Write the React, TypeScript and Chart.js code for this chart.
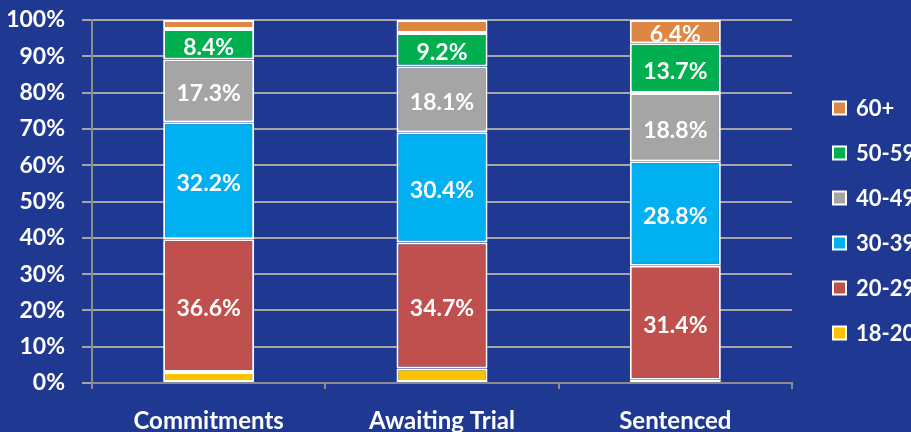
import React, { useEffect, useRef } from 'react';
import { Chart, registerables } from 'chart.js';

Chart.register(...registerables);

const categories = ['Commitments', 'Awaiting Trial', 'Sentenced'];
const ageGroups = ['18-20', '20-29', '30-39', '40-49', '50-59', '60+'];
const age18to20 = [3.0, 4.0, 0.9];
const age20to29 = [36.6, 34.7, 31.4];
const age30to39 = [32.2, 30.4, 28.8];
const age40to49 = [17.3, 18.1, 18.8];
const age50to59 = [8.4, 9.2, 13.7];
const age60plus = [2.5, 3.6, 6.4];
const yTickValues = [0, 10, 20, 30, 40, 50, 60, 70, 80, 90, 100];

const seriesValues = [age18to20, age20to29, age30to39, age40to49, age50to59, age60plus];
const colors = ['#FFC000', '#C0504D', '#00B0F0', '#A5A5A5', '#00B050', '#DE8644'];

const FONT = 'Lato, "Open Sans", sans-serif';
const BG = '#1F3992';

const valueLabels = {
  id: 'valueLabels',
  afterDatasetsDraw(chart: any) {
    const ctx = chart.ctx;
    ctx.save();
    ctx.fillStyle = '#FFFFFF';
    ctx.font = `bold 23px ${FONT}`;
    ctx.textAlign = 'center';
    ctx.textBaseline = 'middle';
    chart.data.datasets.forEach((ds: any, di: number) => {
      const meta = chart.getDatasetMeta(di);
      meta.data.forEach((el: any, i: number) => {
        const v = ds.data[i];
        if (v < 5) return;
        const y = (el.y + el.base) / 2 + 3;
        ctx.fillText(v.toFixed(1) + '%', el.x, y);
      });
    });
    ctx.restore();
  },
};

const sideLegend = {
  id: 'sideLegend',
  afterDraw(chart: any) {
    const ctx = chart.ctx;
    const area = chart.chartArea;
    const boxX = area.right + 41;
    const textX = area.right + 64;
    const startY = area.top + 88;
    const step = 45;
    const box = 13;
    ctx.save();
    ctx.font = `bold 22px ${FONT}`;
    ctx.textAlign = 'left';
    ctx.textBaseline = 'middle';
    const n = chart.data.datasets.length;
    for (let k = 0; k < n; k++) {
      const ds = chart.data.datasets[n - 1 - k];
      const cy = startY + k * step;
      ctx.fillStyle = ds.backgroundColor;
      ctx.fillRect(boxX, cy - box / 2, box, box);
      ctx.strokeStyle = '#FFFFFF';
      ctx.lineWidth = 2;
      ctx.strokeRect(boxX, cy - box / 2, box, box);
      ctx.fillStyle = '#FFFFFF';
      ctx.fillText(ds.label, textX, cy + 1);
    }
    ctx.restore();
  },
};

export default function App() {
  const ref = useRef<HTMLCanvasElement>(null);

  useEffect(() => {
    document.body.style.margin = '0';
    const canvas = ref.current;
    if (!canvas) return;
    const chart = new Chart(canvas, {
      type: 'bar',
      data: {
        labels: categories,
        datasets: ageGroups.map((g, i) => ({
          label: g,
          data: seriesValues[i],
          backgroundColor: colors[i],
          borderColor: '#FFFFFF',
          borderWidth: 2,
          borderSkipped: false,
          barPercentage: 0.39,
          categoryPercentage: 1,
        })),
      },
      options: {
        responsive: false,
        animation: false,
        layout: { autoPadding: false, padding: { top: 20, right: 119, left: 0, bottom: 0 } },
        plugins: {
          legend: { display: false },
          tooltip: { enabled: false },
        },
        scales: {
          x: {
            stacked: true,
            afterFit: (scale: any) => {
              scale.height = 49;
              scale.paddingLeft = 0;
              scale.paddingRight = 0;
            },
            grid: {
              drawOnChartArea: false,
              offset: true,
              tickLength: 6,
              color: '#8C8C8C',
              lineWidth: 2,
            },
            border: { display: true, color: '#8C8C8C', width: 2 },
            ticks: {
              color: '#FFFFFF',
              font: { family: FONT, size: 24, weight: 'bold' },
              padding: 18,
            },
          },
          y: {
            stacked: true,
            min: 0,
            max: 100,
            afterFit: (scale: any) => {
              scale.width = 92;
              scale.paddingTop = 0;
              scale.paddingBottom = 0;
            },
            afterBuildTicks: (scale: any) => {
              scale.ticks = yTickValues.map((v) => ({ value: v }));
            },
            grid: {
              color: '#A6A6A6',
              lineWidth: 2,
              tickLength: 10,
            },
            border: { display: true, color: '#8C8C8C', width: 2 },
            ticks: {
              color: '#FFFFFF',
              font: { family: FONT, size: 23, weight: 'bold' },
              padding: 17,
              callback: (v: any) => v + '%',
            },
          },
        },
      },
      plugins: [valueLabels, sideLegend],
    });
    return () => chart.destroy();
  }, []);

  return (
    <div style={{ position: 'absolute', left: 0, top: 0, width: 911, height: 432, background: BG, overflow: 'hidden' }}>
      <canvas ref={ref} width={911} height={432} style={{ display: 'block' }} />
    </div>
  );
}
